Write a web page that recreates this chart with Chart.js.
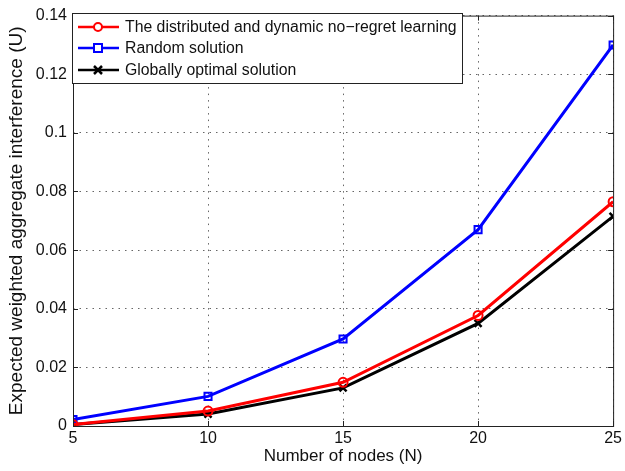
<!DOCTYPE html>
<html>
<head>
<meta charset="utf-8">
<script src="https://cdn.jsdelivr.net/npm/chart.js@4.4.1/dist/chart.umd.min.js"></script>
<style>
  html, body { margin: 0; padding: 0; background: #fff; }
  #wrap { width: 625px; height: 471px; }
</style>
</head>
<body>
<div id="wrap"><canvas id="c" width="625" height="471"></canvas></div>
<script>
const nodes = [5, 10, 15, 20, 25];
const noRegret = [0.0005, 0.0051, 0.0149, 0.0377, 0.0765];
const randomSol = [0.0022, 0.0101, 0.0297, 0.0670, 0.1300];
const optimal = [0.0005, 0.0041, 0.0130, 0.0350, 0.0715];
const yTicks = [0, 0.02, 0.04, 0.06, 0.08, 0.1, 0.12, 0.14];
const xTicks = [5, 10, 15, 20, 25];
const seriesNames = [
  'The distributed and dynamic no\u2212regret learning',
  'Random solution',
  'Globally optimal solution'
];

const FONT = 'Liberation Sans, Arial, sans-serif';

function pts(arr) { return nodes.map((n, i) => ({ x: n, y: arr[i] })); }

// Axes box with inward tick marks, plus the boxed legend
const boxPlugin = {
  id: 'box',
  afterDraw(chart) {
    const { ctx, chartArea: a, scales: { x, y } } = chart;
    ctx.save();
    ctx.strokeStyle = '#222';
    ctx.lineWidth = 1;
    ctx.strokeRect(a.left + 0.5, a.top + 0.5, a.right - a.left, a.bottom - a.top);
    ctx.beginPath();
    xTicks.forEach(v => {
      const px = Math.round(x.getPixelForValue(v)) + 0.5;
      ctx.moveTo(px, a.bottom); ctx.lineTo(px, a.bottom - 5);
      ctx.moveTo(px, a.top); ctx.lineTo(px, a.top + 5);
    });
    yTicks.forEach(v => {
      const py = Math.round(y.getPixelForValue(v)) + 0.5;
      ctx.moveTo(a.left, py); ctx.lineTo(a.left + 5, py);
      ctx.moveTo(a.right, py); ctx.lineTo(a.right - 5, py);
    });
    ctx.stroke();

    const lx = 72.5, ly = 13.5, lw = 390, lh = 70;
    ctx.fillStyle = '#fff';
    ctx.fillRect(lx, ly, lw, lh);
    ctx.strokeStyle = '#222';
    ctx.strokeRect(lx, ly, lw, lh);
    const rows = [27, 48, 70];
    ctx.font = '15.8px ' + FONT;
    ctx.textBaseline = 'middle';
    chart.data.datasets.forEach((ds, i) => {
      const yy = rows[i];
      ctx.strokeStyle = ds.borderColor;
      ctx.lineWidth = 2.5;
      ctx.beginPath();
      ctx.moveTo(78, yy); ctx.lineTo(119, yy);
      ctx.stroke();
      ctx.lineWidth = 2;
      ctx.beginPath();
      const cx = 98;
      if (ds.pointStyle === 'circle') {
        ctx.fillStyle = '#fff';
        ctx.arc(cx, yy, 4, 0, Math.PI * 2);
        ctx.fill(); ctx.stroke();
      } else if (ds.pointStyle === 'rect') {
        ctx.fillStyle = '#fff';
        ctx.rect(cx - 4, yy - 4, 8, 8);
        ctx.fill(); ctx.stroke();
      } else {
        ctx.lineWidth = 2.5;
        ctx.moveTo(cx - 4, yy - 4); ctx.lineTo(cx + 4, yy + 4);
        ctx.moveTo(cx + 4, yy - 4); ctx.lineTo(cx - 4, yy + 4);
        ctx.stroke();
      }
      ctx.fillStyle = '#111';
      ctx.fillText(seriesNames[i], 125, yy + 1);
    });
    ctx.restore();
  }
};

const gridOpts = { color: '#666', drawTicks: false, lineWidth: 1 };
const borderOpts = { display: false, dash: [1.5, 5] };

new Chart(document.getElementById('c'), {
  type: 'line',
  data: {
    datasets: [
      {
        label: seriesNames[0], data: pts(noRegret),
        borderColor: '#ff0000', borderWidth: 3,
        pointStyle: 'circle', pointRadius: 4.5, pointBorderWidth: 2,
        pointBackgroundColor: 'rgba(255,255,255,0)', pointBorderColor: '#ff0000'
      },
      {
        label: seriesNames[1], data: pts(randomSol),
        borderColor: '#0000ff', borderWidth: 3,
        pointStyle: 'rect', pointRadius: 5, pointBorderWidth: 2,
        pointBackgroundColor: 'rgba(255,255,255,0)', pointBorderColor: '#0000ff'
      },
      {
        label: seriesNames[2], data: pts(optimal),
        borderColor: '#000000', borderWidth: 3,
        pointStyle: 'crossRot', pointRadius: 5, pointBorderWidth: 2.5,
        pointBorderColor: '#000000'
      }
    ]
  },
  options: {
    responsive: false,
    animation: false,
    events: [],
    layout: { padding: { top: 10, right: 10, left: 5, bottom: 0 } },
    plugins: { legend: { display: false }, tooltip: { enabled: false } },
    elements: { line: { tension: 0 } },
    scales: {
      x: {
        type: 'linear', min: 5, max: 25,
        afterBuildTicks(s) { s.ticks = xTicks.map(v => ({ value: v })); },
        afterFit(s) { s.height = 45; },
        grid: gridOpts,
        border: borderOpts,
        ticks: { color: '#111', font: { family: FONT, size: 16 }, padding: 3, maxRotation: 0 },
        title: { display: true, text: 'Number of nodes (N)', color: '#111', font: { family: FONT, size: 17 }, padding: { top: 0, bottom: 4 } }
      },
      y: {
        type: 'linear', min: 0, max: 0.14,
        afterBuildTicks(s) { s.ticks = yTicks.map(v => ({ value: v })); },
        afterFit(s) { s.width = 68; },
        grid: gridOpts,
        border: borderOpts,
        ticks: {
          color: '#111', font: { family: FONT, size: 16 }, padding: 6,
          callback: v => String(Number(v.toFixed(2)))
        },
        title: { display: true, text: 'Expected weighted aggregate interference (U)', color: '#111', font: { family: FONT, size: 19 }, padding: { top: 0, bottom: 2 } }
      }
    }
  },
  plugins: [boxPlugin]
});
</script>
</body>
</html>
